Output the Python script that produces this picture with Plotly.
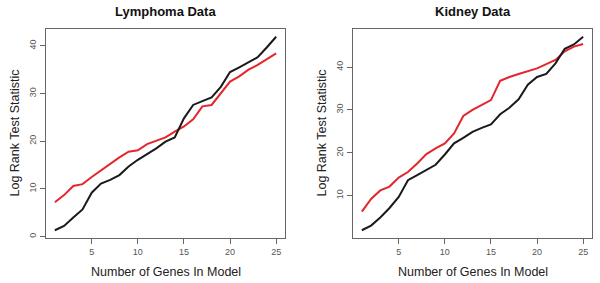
import plotly.graph_objects as go

genes = list(range(1, 26))

lymphoma_black = [1.33, 2.25, 4.0, 5.7, 9.2, 11.1, 11.9, 12.9, 14.7, 16.1, 17.3, 18.5, 19.9,
                  20.8, 24.8, 27.6, 28.4, 29.2, 31.4, 34.5, 35.5, 36.6, 37.6, 39.7, 41.9]
lymphoma_red = [7.2, 8.7, 10.6, 11.0, 12.5, 13.9, 15.2, 16.6, 17.8, 18.1, 19.4, 20.1, 20.8,
                22.0, 23.1, 24.6, 27.3, 27.6, 30.0, 32.5, 33.6, 35.0, 36.0, 37.2, 38.4]

kidney_black = [1.9, 3.0, 4.9, 7.1, 9.7, 13.6, 14.8, 16.1, 17.2, 19.6, 22.2, 23.5, 24.9,
                25.8, 26.6, 29.0, 30.5, 32.5, 35.9, 37.7, 38.4, 40.9, 44.3, 45.3, 47.1]
kidney_red = [6.25, 9.2, 11.2, 12.1, 14.2, 15.5, 17.5, 19.7, 21.0, 22.2, 24.5, 28.6, 30.0,
              31.1, 32.3, 36.8, 37.7, 38.4, 39.0, 39.7, 40.7, 41.7, 43.7, 44.8, 45.4]

x_ticks = [5, 10, 15, 20, 25]
lymphoma_y_ticks = [0, 10, 20, 30, 40]
kidney_y_ticks = [10, 20, 30, 40]

titles = ["Lymphoma Data", "Kidney Data"]
x_title = "Number of Genes In Model"
y_title = "Log Rank Test Statistic"

W, H = 600, 283
BLACK = "#1a1a1a"
RED = "#e3262d"
FONT = "Liberation Sans, Arial, sans-serif"

def px(X):
    return X / W

def py(Y):
    return 1 - Y / H

fig = go.Figure()

fig.add_trace(go.Scatter(x=genes, y=lymphoma_red, mode="lines", line=dict(color=RED, width=2),
                         xaxis="x", yaxis="y", showlegend=False, hoverinfo="skip"))
fig.add_trace(go.Scatter(x=genes, y=lymphoma_black, mode="lines", line=dict(color=BLACK, width=2),
                         xaxis="x", yaxis="y", showlegend=False, hoverinfo="skip"))
fig.add_trace(go.Scatter(x=genes, y=kidney_red, mode="lines", line=dict(color=RED, width=2),
                         xaxis="x2", yaxis="y2", showlegend=False, hoverinfo="skip"))
fig.add_trace(go.Scatter(x=genes, y=kidney_black, mode="lines", line=dict(color=BLACK, width=2),
                         xaxis="x2", yaxis="y2", showlegend=False, hoverinfo="skip"))

# panel geometry in window pixels
panels = [
    dict(left=46, right=285, top=29, bottom=238),
    dict(left=353, right=592, top=29, bottom=238),
]

def xdom(p):
    return [px(p["left"]), px(p["right"])]

def ydom(p):
    return [py(p["bottom"]), py(p["top"])]

common_axis = dict(
    showgrid=False, zeroline=False, showline=True, linecolor="#666666", linewidth=1,
    mirror=True, ticks="outside", ticklen=5, tickcolor="#666666", tickwidth=1,
    tickfont=dict(family=FONT, size=9, color="#555555"), automargin=False,
)

def yrange(vals_a, vals_b):
    lo = min(min(vals_a), min(vals_b))
    hi = max(max(vals_a), max(vals_b))
    pad = 0.04 * (hi - lo)
    return [lo - pad, hi + pad]

xr = [1 - 0.04 * 24, 25 + 0.04 * 24]

fig.update_layout(
    width=W, height=H,
    margin=dict(l=0, r=0, t=0, b=0),
    paper_bgcolor="white", plot_bgcolor="white",
    xaxis=dict(domain=xdom(panels[0]), anchor="y", range=xr, tickvals=x_ticks, **common_axis),
    yaxis=dict(domain=ydom(panels[0]), anchor="x", range=yrange(lymphoma_black, lymphoma_red),
               tickvals=lymphoma_y_ticks, tickangle=-90, **common_axis),
    xaxis2=dict(domain=xdom(panels[1]), anchor="y2", range=xr, tickvals=x_ticks, **common_axis),
    yaxis2=dict(domain=ydom(panels[1]), anchor="x2", range=yrange(kidney_black, kidney_red),
                tickvals=kidney_y_ticks, tickangle=-90, **common_axis),
)

annotations = []
for p, t in zip(panels, titles):
    cx = (p["left"] + p["right"]) / 2
    annotations.append(dict(text="<b>" + t + "</b>", x=px(cx), y=py(11), xref="paper", yref="paper",
                            showarrow=False, xanchor="center", yanchor="middle",
                            font=dict(family=FONT, size=13, color="#111111")))
    annotations.append(dict(text=x_title, x=px(cx), y=py(272), xref="paper", yref="paper",
                            showarrow=False, xanchor="center", yanchor="middle",
                            font=dict(family=FONT, size=12.5, color="#222222")))
    annotations.append(dict(text=y_title, x=px(p["left"] - 32), y=py((p["top"] + p["bottom"]) / 2),
                            xref="paper", yref="paper", textangle=-90,
                            showarrow=False, xanchor="center", yanchor="middle",
                            font=dict(family=FONT, size=12.5, color="#222222")))
fig.update_layout(annotations=annotations)

# remove the browser's default 8px body margin so the 600x283 figure fills the window
fig.write_html("out.html", config={"displayModeBar": False, "staticPlot": True},
               post_script="document.body.style.margin='0';document.body.style.overflow='hidden';")
